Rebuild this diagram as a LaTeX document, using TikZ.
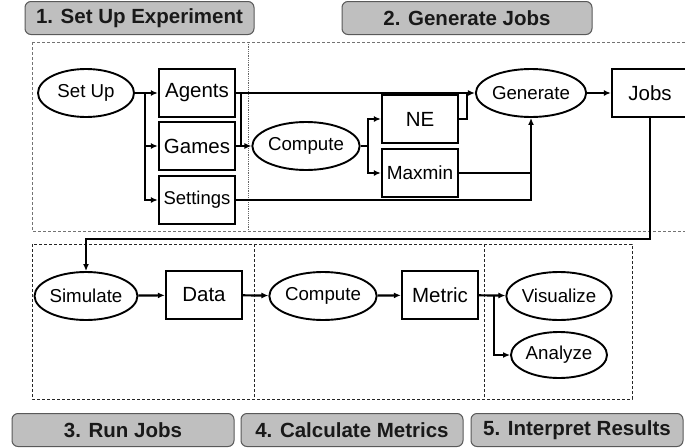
\documentclass[tikz,border=0pt]{standalone}
\usepackage{fontspec}
\setmainfont{Liberation Sans}
\usepackage{tikz}
\usetikzlibrary{arrows.meta,shapes.geometric}

\begin{document}
\begin{tikzpicture}[x=1pt,y=-1pt,
        box/.style={draw,rectangle,line width=2.3pt,minimum width=76pt,minimum height=48pt,inner sep=0pt,font=\fontsize{20.5}{24}\selectfont},
        oval/.style={draw,ellipse,line width=1.9pt,minimum width=96pt,minimum height=48pt,inner sep=0pt,font=\fontsize{18.7}{22}\selectfont},
        stage/.style={draw=black!65,fill=black!25,rounded corners=6pt,line width=1pt,minimum height=33pt,inner sep=0pt,text=black!90,font=\fontsize{20.5}{24}\selectfont\bfseries},
        arr/.style={line width=2.2pt,-{Latex[length=7pt,width=6pt]}},
        wire/.style={line width=2.2pt},
        region/.style={draw=black!55,dashed,dash pattern=on 3pt off 2pt,line width=0.9pt}]
        \useasboundingbox (0,0) rectangle (685,447);
        % Define the regions
        \draw[region] (32,42) rectangle (692,231);
        \draw[draw=black!60,densely dotted,line width=0.8pt] (248,42) -- (248,231);
        \draw[region,draw=black!85] (32,244) rectangle (632,399);
        \draw[region,draw=black!85] (254,244) -- (254,399);
        \draw[region,draw=black!85] (484,244) -- (484,399);
        % Define the stage labels
        \node[stage,minimum width=229pt] (st1) at (139.5,18) {1. Set Up Experiment};
        \node[stage,minimum width=250pt] (st2) at (467,18) {2. Generate Jobs};
        \node[stage,minimum width=222pt] (st3) at (123,430) {3. Run Jobs};
        \node[stage,minimum width=222pt] (st4) at (352,430) {4. Calculate Metrics};
        \node[stage,minimum width=212pt] (st5) at (577,430) {5. Interpret Results};
        % Define the nodes
        \node[oval]  (setup)     at (86,93)   {Set Up};
        \node[box]   (agents)    at (197,93)  {Agents};
        \node[box]   (games)     at (197,146) {Games};
        \node[box,font=\fontsize{18.5}{22}\selectfont] (settings) at (197,200) {Settings};
        \node[oval]  (computeA)  at (306,146) {Compute};
        \node[box]   (ne)        at (420,119) {NE};
        \node[box,font=\fontsize{19}{22}\selectfont] (maxmin) at (420,173) {Maxmin};
        \node[oval]  (generate)  at (531,93)  {Generate};
        \node[box]   (jobs)      at (650,93)  {Jobs};
        \node[oval]  (simulate)  at (86,296)  {Simulate};
        \node[box]   (data)      at (204,295) {Data};
        \node[oval,minimum width=100pt] (computeB) at (323,296) {Compute};
        \node[box]   (metric)    at (440,295) {Metric};
        \node[oval]  (visualize) at (559,296) {Visualize};
        \node[oval,minimum height=46pt] (analyze) at (559,355) {Analyze};
        \coordinate (splitA) at (145,93);
        \coordinate (joinA)  at (241,146);
        \coordinate (splitB) at (368,146);
        \coordinate (joinB)  at (467,93);
        \coordinate (turn)   at (650,239);
        \coordinate (splitC) at (494,296);
        % Connect the nodes
        \draw[arr] (setup) -- (agents);
        \draw[arr] (splitA) |- (games.west);
        \draw[arr] (splitA) |- (settings.west);
        \draw[arr] (agents) -- (generate);
        \draw[wire] (agents.east) -| (joinA);
        \draw[arr] (games) -- (computeA);
        \draw[wire] (computeA.east) -- (splitB);
        \draw[arr] (splitB) |- (ne.west);
        \draw[arr] (splitB) |- (maxmin.west);
        \draw[wire] (ne.east) -| (joinB);
        \draw[wire] (maxmin.east) -- (maxmin.east -| generate.south);
        \draw[arr] (settings.east) -| (generate.south);
        \draw[arr] (generate) -- (jobs);
        \draw[arr] (jobs.south) -- (turn) -| (simulate.north);
        \draw[arr] (simulate) -- (data);
        \draw[arr] (data) -- (computeB);
        \draw[arr] (computeB) -- (metric);
        \draw[arr] (metric) -- (visualize);
        \draw[arr] (splitC) |- (analyze.west);
    \end{tikzpicture}
\end{document}
